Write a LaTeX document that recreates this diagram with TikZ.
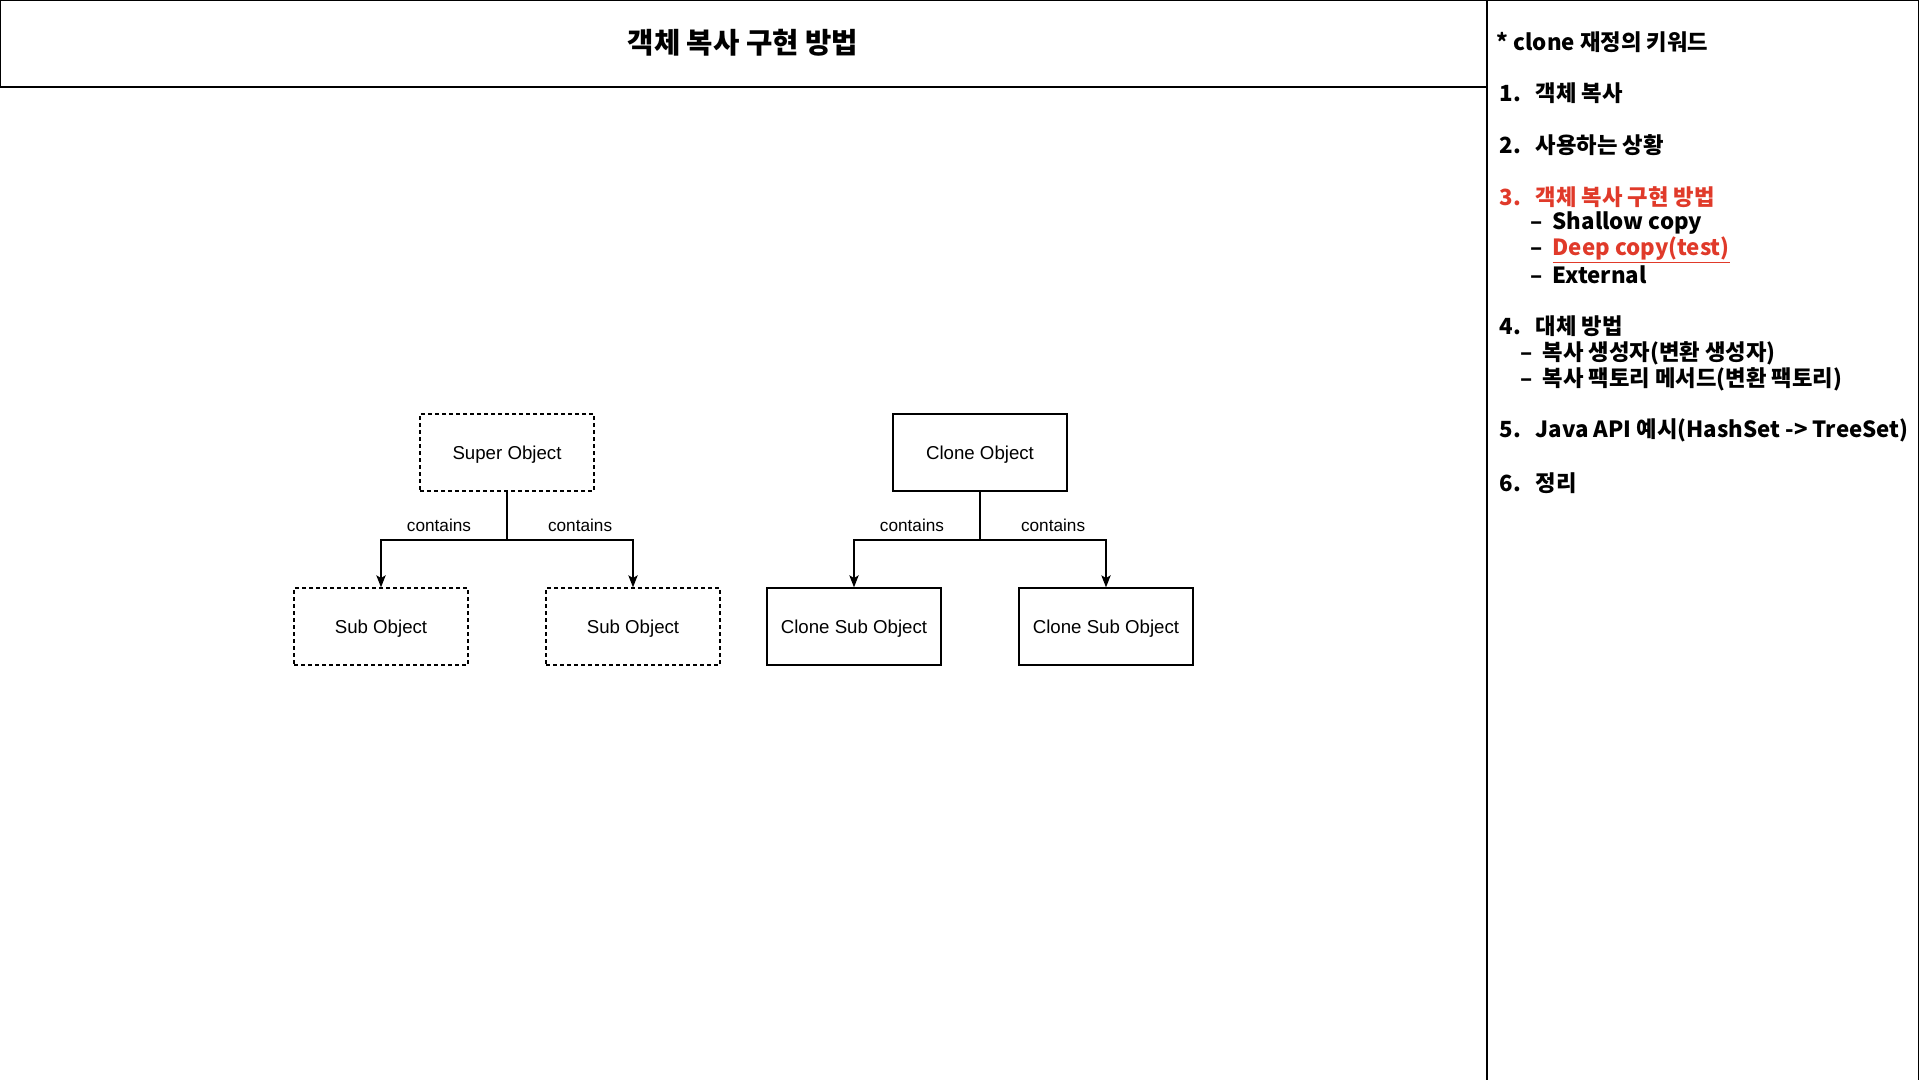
\documentclass[tikz,border=0pt]{standalone}
\usepackage{fontspec}
\setmainfont{Liberation Sans}
\newfontfamily\kofont{Noto Sans CJK KR}
\usetikzlibrary{arrows.meta}
\definecolor{keyred}{HTML}{E03A2A}

\begin{document}
\begin{tikzpicture}[x=0.75pt, y=-0.75pt, line width=1pt, >={Stealth[length=9pt,width=7pt,inset=2pt]}]
    \tikzstyle{block} = [draw, rectangle, minimum width=130.5pt, minimum height=57.75pt, text depth=0pt, font=\fontsize{14}{16}\selectfont];
    \tikzstyle{dblock} = [block, dash pattern=on 3pt off 2.25pt];
    \tikzstyle{lbl} = [above=4pt, inner sep=2pt, font=\fontsize{12.9}{14}\selectfont];
    \tikzstyle{keyline} = [anchor=west, inner sep=0pt, font=\kofont\bfseries\fontsize{16.7}{19}\selectfont];
    \useasboundingbox (0,0) rectangle (1920,1080);
    % frames
    \draw (0.5,0.5) rectangle (1487,87);
    \draw (1487,0.5) rectangle (1918.5,1090);
    \node [font=\kofont\bfseries\fontsize{21.5}{24}\selectfont] (title) at (743,43) {객체 복사 구현 방법};
    % shallow side
    \node [dblock] (super) at (507,452.5) {Super Object};
    \node [dblock] (subl) at (381,626.5) {Sub Object};
    \node [dblock] (subr) at (633,626.5) {Sub Object};
    % clone side
    \node [block] (clone) at (980,452.5) {Clone Object};
    \node [block] (csubl) at (854,626.5) {Clone Sub Object};
    \node [block] (csubr) at (1106,626.5) {Clone Sub Object};
    \coordinate (sj) at (507,540);
    \coordinate (cj) at (980,540);
    \draw [->] (super) -- (sj) -| node [lbl, pos=0.27] (l1) {contains} (subl);
    \draw [->] (super) -- (sj) -| node [lbl, pos=0.29] (l2) {contains} (subr);
    \draw [->] (clone) -- (cj) -| node [lbl, pos=0.27] (l3) {contains} (csubl);
    \draw [->] (clone) -- (cj) -| node [lbl, pos=0.29] (l4) {contains} (csubr);
    % keyword list
    \node [keyline] (k0) at (1496,42) {* clone 재정의 키워드};
    \node [keyline] (k1) at (1499,93) {\makebox[27pt][l]{1.}객체 복사};
    \node [keyline] (k2) at (1499,145) {\makebox[27pt][l]{2.}사용하는 상황};
    \node [keyline, text=keyred] (k3) at (1499,197) {\makebox[27pt][l]{3.}객체 복사 구현 방법};
    \node [keyline] (k3a) at (1530,223) {\makebox[16.5pt][l]{–}Shallow copy};
    \node [keyline] (k3b) at (1530,250) {\makebox[16.5pt][l]{–}\textcolor{keyred}{\underline{Deep copy(test)}}};
    \node [keyline] (k3c) at (1530,275) {\makebox[16.5pt][l]{–}External};
    \node [keyline] (k4) at (1499,326) {\makebox[27pt][l]{4.}대체 방법};
    \node [keyline] (k4a) at (1520,353) {\makebox[16.5pt][l]{–}복사 생성자(변환 생성자)};
    \node [keyline] (k4b) at (1520,379) {\makebox[16.5pt][l]{–}복사 팩토리 메서드(변환 팩토리)};
    \node [keyline] (k5) at (1499,430) {\makebox[27pt][l]{5.}Java API 예시(HashSet -> TreeSet)};
    \node [keyline] (k6) at (1499,483) {\makebox[27pt][l]{6.}정리};
\end{tikzpicture}
\end{document}
